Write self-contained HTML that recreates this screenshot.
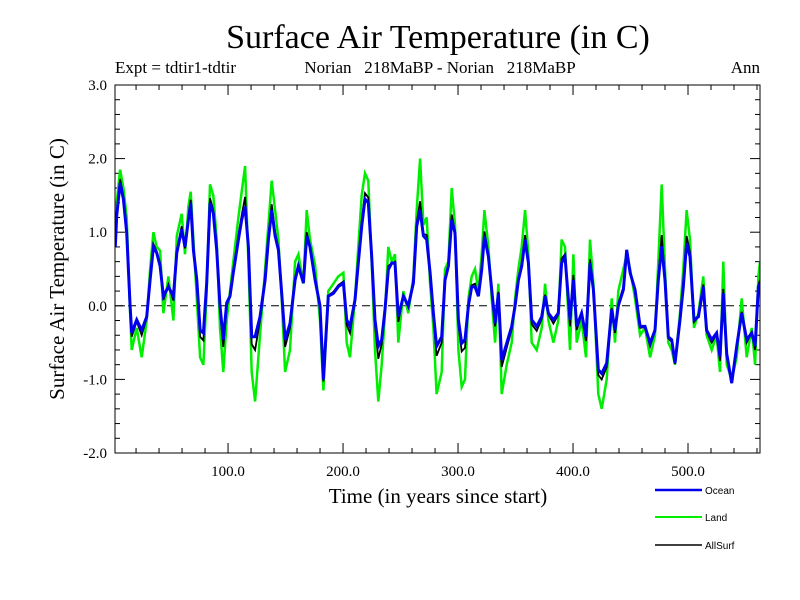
<!DOCTYPE html>
<html><head><meta charset="utf-8"><style>
body{margin:0;background:#fff}
svg{display:block}
text{font-family:"Liberation Serif",serif;fill:#000}
</style></head><body>
<svg id="chart" width="800" height="600" viewBox="0 0 800 600">
<text x="438" y="48" font-size="34" text-anchor="middle">Surface Air Temperature (in C)</text>
<text x="115" y="73" font-size="17">Expt = tdtir1-tdtir</text>
<text x="440" y="73" font-size="17" text-anchor="middle" xml:space="preserve">Norian   218MaBP - Norian   218MaBP</text>
<text x="760" y="73" font-size="17" text-anchor="end">Ann</text>
<text x="438" y="503" font-size="21" text-anchor="middle">Time (in years since start)</text>
<text transform="translate(64,269) rotate(-90)" font-size="21" text-anchor="middle">Surface Air Temperature (in C)</text>
<defs><clipPath id="pc"><rect x="115" y="85" width="645" height="368"/></clipPath></defs>
<g id="axes"></g>
<g id="series" clip-path="url(#pc)"></g>
<rect x="115" y="85" width="645" height="368" fill="none" stroke="#000" stroke-width="1"/>
<g id="legend"></g>
</svg>
<script>
const years=[2,3.2,6.1,9.0,11.9,14.8,16.2,20.6,24.9,29.3,32.2,35.1,38.0,40.9,43.8,48.1,52.5,55.4,59.7,62.6,65.5,67.5,69.9,72.8,75.7,78.6,81.4,84.3,87.2,90.1,93.0,95.9,98.8,101.7,104.6,109.0,111.9,114.8,117.7,120.6,123.5,127.8,132.2,135.1,138.0,140.9,143.8,146.7,149.6,153.9,158.3,161.2,165.5,168.4,171.3,175.7,180.0,182.9,
187.2,191.6,195.9,200.3,203.2,206.1,210.4,213.3,216.2,219.1,222.0,224.9,227.8,230.7,233.6,236.5,239.4,242.3,245.2,248.1,252.5,256.8,261.2,264.1,267.0,269.9,272.8,275.7,278.6,281.4,285.8,288.7,291.6,294.5,297.4,300.3,303.2,306.1,309.0,311.9,314.8,317.7,320.6,322.9,326.4,329.3,332.2,335.1,338.0,342.3,346.7,349.6,352.5,355.4,358.3,361.2,364.1,368.4,372.8,
375.7,378.6,382.9,387.2,390.1,393.0,397.4,400.3,403.2,407.5,411.3,414.8,417.7,422.0,424.9,429.3,433.6,436.5,439.4,443.8,446.7,449.6,453.9,458.3,462.6,467.0,471.3,474.2,477.1,480.0,482.9,485.8,488.7,493.0,495.9,498.8,501.7,505.2,509.0,513.3,516.2,520.6,524.9,527.8,530.7,533.6,538.0,542.3,546.7,551.0,555.4,558.3,561.2,562.6];
const ocean=[0.8,1.22,1.67,1.45,0.99,0,-0.37,-0.19,-0.33,-0.15,0.35,0.8,0.72,0.54,0.13,0.26,0.13,0.72,1.04,0.8,1.17,1.4,0.76,0.35,-0.33,-0.37,0.31,1.4,1.26,0.76,0,-0.46,0.04,0.13,0.45,0.9,1.17,1.35,0.8,-0.42,-0.42,-0.15,0.35,0.9,1.3,0.95,0.76,0.17,-0.46,-0.24,0.35,0.54,0.31,0.95,0.8,0.35,0,-1.0,
0.13,0.17,0.26,0.31,-0.19,-0.28,0.08,0.58,1.08,1.45,1.4,0.67,-0.19,-0.55,-0.46,-0.05,0.49,0.58,0.58,-0.15,0.13,0,0.31,1.08,1.3,0.95,0.9,0.45,-0.1,-0.55,-0.42,0.35,0.54,1.17,0.99,-0.19,-0.51,-0.46,0,0.26,0.26,0.13,0.49,0.95,0.67,0.22,-0.24,0.17,-0.74,-0.51,-0.28,0,0.35,0.54,0.9,0.58,-0.19,-0.28,-0.15,
0.13,-0.1,-0.19,-0.1,0.58,0.67,-0.19,0.35,-0.28,-0.1,-0.42,0.58,0.22,-0.87,-0.92,-0.78,-0.05,-0.33,0,0.22,0.76,0.45,0.22,-0.28,-0.28,-0.51,-0.33,0.35,0.81,0.35,-0.42,-0.46,-0.78,-0.19,0.26,0.85,0.67,-0.19,-0.15,0.26,-0.33,-0.46,-0.37,-0.69,0.17,-0.65,-1.05,-0.55,-0.1,-0.46,-0.37,-0.55,0.26,0.3];
const land=[0.9,1.4,1.85,1.6,1.2,-0.1,-0.6,-0.3,-0.7,-0.2,0.5,1.0,0.8,0.75,-0.1,0.4,-0.2,0.95,1.25,0.7,1.35,1.55,0.9,0.1,-0.7,-0.8,0.2,1.65,1.5,0.9,-0.3,-0.9,-0.2,0.2,0.6,1.2,1.55,1.9,0.6,-0.9,-1.3,-0.4,0.5,1.1,1.7,1.3,0.9,0.1,-0.9,-0.6,0.6,0.7,0.3,1.3,0.9,0.55,-0.2,-1.15,
0.2,0.3,0.4,0.45,-0.5,-0.7,0.1,0.8,1.5,1.8,1.7,0.6,-0.6,-1.3,-0.8,-0.1,0.8,0.6,0.7,-0.5,0.2,-0.1,0.4,1.3,2.0,1.1,1.2,0.3,-0.3,-1.2,-0.9,0.5,0.6,1.6,1.1,-0.6,-1.1,-1.0,0.1,0.4,0.5,0.2,0.7,1.3,0.8,0.1,-0.5,0.3,-1.2,-0.8,-0.5,0.1,0.5,0.8,1.3,0.7,-0.5,-0.6,-0.3,
0.3,-0.2,-0.5,-0.2,0.9,0.8,-0.6,0.7,-0.5,-0.2,-0.7,0.9,0.3,-1.2,-1.4,-1.0,0.1,-0.5,0.2,0.5,0.7,0.5,0.1,-0.4,-0.3,-0.7,-0.4,0.6,1.65,0.5,-0.5,-0.6,-0.8,-0.1,0.5,1.3,0.9,-0.3,-0.1,0.4,-0.4,-0.6,-0.4,-0.9,0.6,-0.8,-1.0,-0.7,0.1,-0.7,-0.3,-0.8,0.4,0.6];
const allsurf=[0.82,1.26,1.72,1.49,1.03,-0.02,-0.42,-0.21,-0.4,-0.16,0.38,0.84,0.74,0.58,0.08,0.29,0.07,0.76,1.08,0.78,1.2,1.44,0.79,0.31,-0.42,-0.47,0.29,1.46,1.3,0.79,-0.06,-0.56,0.0,0.14,0.48,0.96,1.23,1.48,0.77,-0.52,-0.6,-0.2,0.38,0.94,1.38,1.0,0.79,0.15,-0.56,-0.3,0.39,0.57,0.31,1.0,0.82,0.38,-0.03,-1.03,
0.14,0.19,0.28,0.33,-0.26,-0.37,0.08,0.62,1.15,1.53,1.47,0.67,-0.26,-0.72,-0.52,-0.06,0.54,0.58,0.6,-0.22,0.14,-0.02,0.32,1.13,1.42,0.98,0.96,0.43,-0.13,-0.68,-0.5,0.37,0.55,1.24,1.01,-0.26,-0.62,-0.57,0.01,0.28,0.3,0.14,0.53,1.01,0.69,0.2,-0.28,0.19,-0.83,-0.57,-0.32,0.01,0.37,0.58,0.96,0.6,-0.25,-0.34,-0.18,
0.15,-0.12,-0.24,-0.12,0.64,0.7,-0.28,0.42,-0.33,-0.12,-0.48,0.63,0.23,-0.94,-1.0,-0.83,-0.03,-0.37,0.03,0.26,0.76,0.46,0.2,-0.3,-0.29,-0.55,-0.34,0.39,0.96,0.38,-0.44,-0.49,-0.79,-0.18,0.3,0.95,0.73,-0.22,-0.15,0.29,-0.35,-0.5,-0.38,-0.75,0.23,-0.68,-1.05,-0.58,-0.08,-0.5,-0.36,-0.6,0.28,0.35];
const yTicks=[3.0,2.0,1.0,0.0,-1.0,-2.0];
const yTickLabels=["3.0","2.0","1.0","0.0","-1.0","-2.0"];
const xTicks=[100,200,300,400,500];
const xTickLabels=["100.0","200.0","300.0","400.0","500.0"];
const X0=1.7,X1=562.6,Y0=-2,Y1=3,L=115,R=760,T=85,B=453;
function sx(v){return L+(v-X0)/(X1-X0)*(R-L);}
function sy(v){return B-(v-Y0)/(Y1-Y0)*(B-T);}
const NS="http://www.w3.org/2000/svg";
function mk(tag,attrs,parent){const e=document.createElementNS(NS,tag);for(const k in attrs)e.setAttribute(k,attrs[k]);parent.appendChild(e);return e;}
const axes=document.getElementById('axes');
for(let v=-2;v<=3.001;v+=0.2){const y=sy(v);const major=Math.abs(v-Math.round(v))<1e-6;const len=major?10:5;
const t1=mk('line',{x1:L,x2:L+len,y1:y,y2:y,stroke:'#000'},axes);


const t2=mk('line',{x1:R,x2:R-len,y1:y,y2:y,stroke:'#000'},axes);

}
yTicks.forEach((v,i)=>{const t=mk('text',{x:107,y:sy(v)+5,'font-size':15,'text-anchor':'end'},axes);t.textContent=yTickLabels[i];

});
for(let v=20;v<=560;v+=20){const x=sx(v);const major=v%100===0;const len=major?10:5;
const t1=mk('line',{x1:x,x2:x,y1:B,y2:B-len,stroke:'#000'},axes);


const t2=mk('line',{x1:x,x2:x,y1:T,y2:T+len,stroke:'#000'},axes);

}
xTicks.forEach((v,i)=>{const t=mk('text',{x:sx(v),y:476,'font-size':15,'text-anchor':'middle'},axes);t.textContent=xTickLabels[i];

});
const zl=mk('line',{x1:L,x2:R,y1:sy(0),y2:sy(0),stroke:'#000','stroke-dasharray':'8,5'},axes);


const series=document.getElementById('series');
function pts(arr){return arr.map((v,i)=>sx(years[i]).toFixed(1)+','+sy(v).toFixed(1)).join(' ');}
const pl=mk('polyline',{points:pts(land),fill:'none',stroke:'#00ee00','stroke-width':2.5},series);


const pa=mk('polyline',{points:pts(allsurf),fill:'none',stroke:'#000','stroke-width':1.8},series);


const po=mk('polyline',{points:pts(ocean),fill:'none',stroke:'#0000ee','stroke-width':3},series);


const legend=document.getElementById('legend');
[["Ocean","#0000ee",490,2.5],["Land","#00ee00",517,2],["AllSurf","#000",545,1.5]].forEach(d=>{
const g=mk('g',{},legend);


mk('line',{x1:655,x2:702,y1:d[2],y2:d[2],stroke:d[1],'stroke-width':d[3]},g);
const t=mk('text',{x:705,y:d[2]+4,'font-size':10,style:'font-family:"Liberation Sans",sans-serif'},g);t.textContent=d[0];});
</script>
</body></html>
